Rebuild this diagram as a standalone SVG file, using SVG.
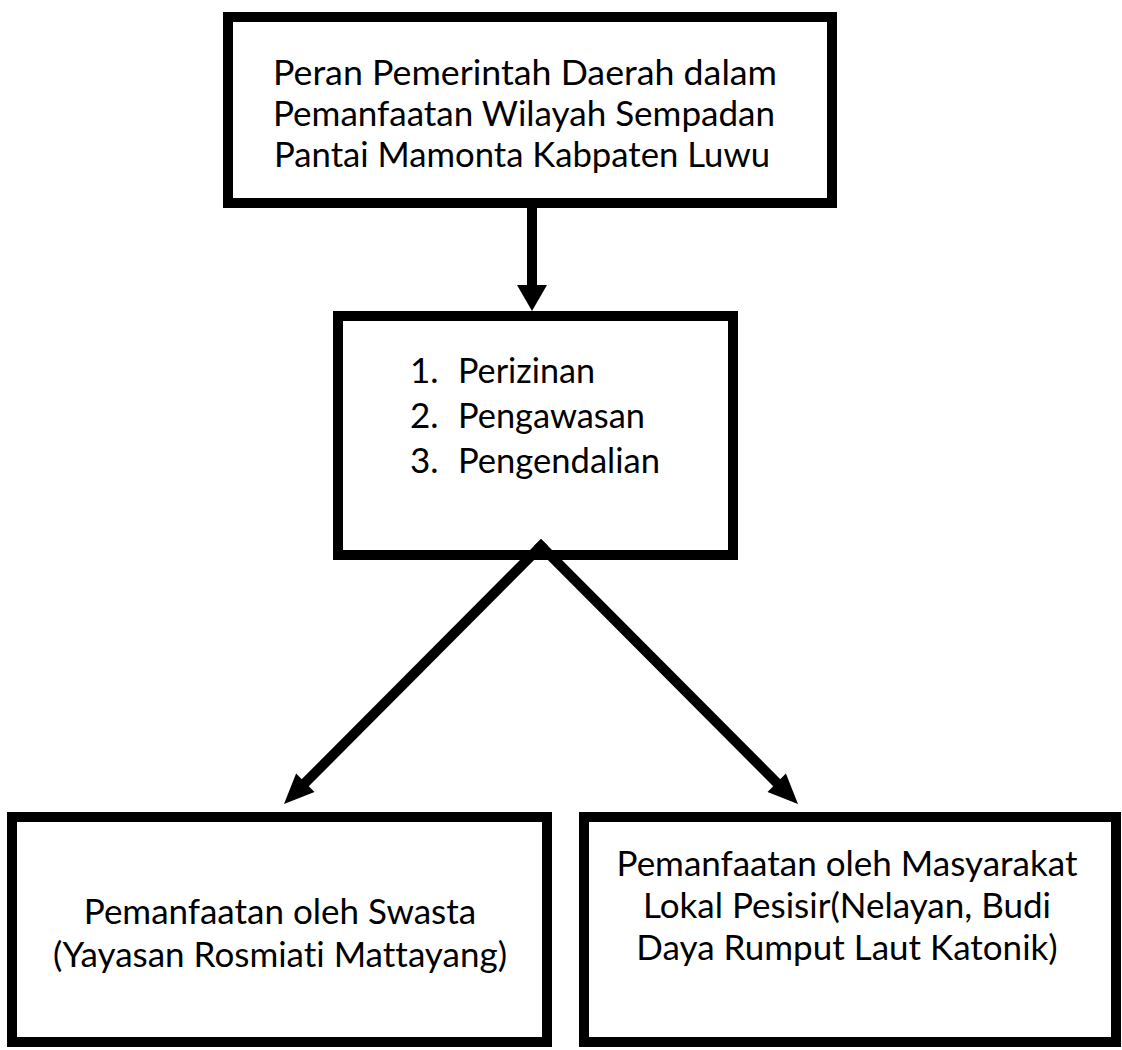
<svg xmlns="http://www.w3.org/2000/svg" width="1122" height="1050" viewBox="0 0 1122 1050">
  <style>
    .box { fill: #ffffff; stroke: #000000; stroke-width: 10; }
    .txt { font-family: Lato, "Open Sans", "Liberation Sans", sans-serif; font-size: 35px; fill: #000000; font-variant-ligatures: none; font-feature-settings: "liga" 0, "clig" 0; }
    .mid { text-anchor: middle; }
    .conn { stroke: #000000; stroke-width: 10; fill: none; stroke-linecap: square; }
    .head { fill: #000000; stroke: none; }
  </style>
  <rect width="1122" height="1050" fill="#ffffff"/>

  <g id="node-peran">
    <rect class="box" x="228" y="17" width="604" height="186"/>
    <text class="txt mid" x="525" y="85" textLength="504" lengthAdjust="spacingAndGlyphs">Peran Pemerintah Daerah dalam</text>
    <text class="txt mid" x="524" y="126" textLength="502" lengthAdjust="spacingAndGlyphs">Pemanfaatan Wilayah Sempadan</text>
    <text class="txt mid" x="522" y="167" textLength="496" lengthAdjust="spacingAndGlyphs">Pantai Mamonta Kabpaten Luwu</text>
  </g>

  <g id="node-fungsi">
    <rect class="box" x="338" y="316" width="395" height="239"/>
    <text class="txt" x="410" y="383">1.</text>
    <text class="txt" x="458" y="383" textLength="137" lengthAdjust="spacingAndGlyphs">Perizinan</text>
    <text class="txt" x="410" y="428">2.</text>
    <text class="txt" x="458" y="428" textLength="187" lengthAdjust="spacingAndGlyphs">Pengawasan</text>
    <text class="txt" x="410" y="473">3.</text>
    <text class="txt" x="458" y="473" textLength="202" lengthAdjust="spacingAndGlyphs">Pengendalian</text>
  </g>

  <g id="node-swasta">
    <rect class="box" x="12" y="817" width="535" height="225"/>
    <text class="txt mid" x="280" y="924">Pemanfaatan oleh Swasta</text>
    <text class="txt mid" x="280" y="967">(Yayasan Rosmiati Mattayang)</text>
  </g>

  <g id="node-masyarakat">
    <rect class="box" x="584" y="817" width="532" height="225"/>
    <text class="txt mid" x="847" y="876">Pemanfaatan oleh Masyarakat</text>
    <text class="txt mid" x="847" y="918">Lokal Pesisir(Nelayan, Budi</text>
    <text class="txt mid" x="847" y="960">Daya Rumput Laut Katonik)</text>
  </g>

  <g id="connectors">
    <line class="conn" x1="532" y1="208" x2="532" y2="283" stroke-linecap="butt"/>
    <polygon class="head" points="517,285 547,285 532,311"/>

    <line class="conn" x1="541" y1="546" x2="305" y2="783"/>
    <polygon class="head" points="284,804 314.5,792 296.1,773.6"/>

    <line class="conn" x1="541" y1="546" x2="777" y2="783"/>
    <polygon class="head" points="798,804 785.9,773.6 767.5,792"/>
  </g>
</svg>
